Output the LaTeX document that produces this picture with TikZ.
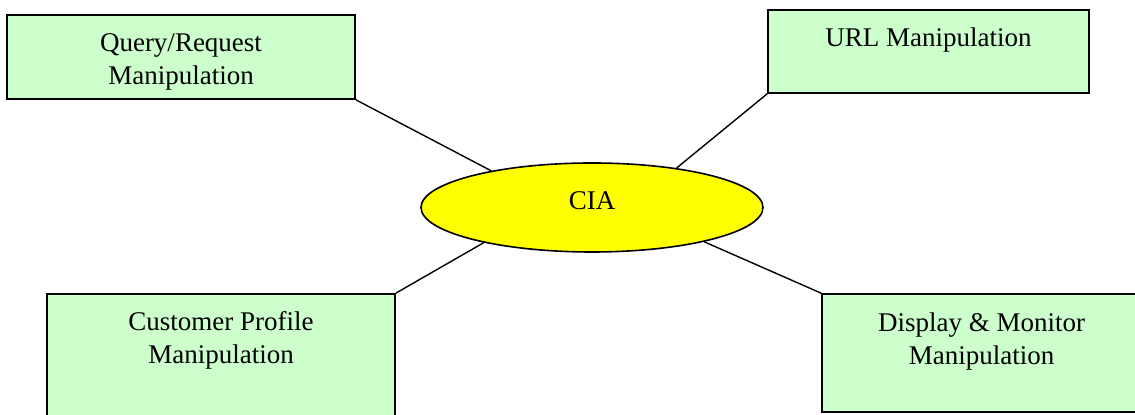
\documentclass[tikz,border=0pt]{standalone}
\usepackage{fontspec}
\setmainfont{Liberation Serif}
\usepackage{xcolor}
\usetikzlibrary{shapes.geometric, positioning}
\definecolor{boxGreen}{rgb}{0.8, 1.0, 0.8}
\definecolor{ciaYellow}{rgb}{1.0, 1.0, 0.0}

\begin{document}
\begin{tikzpicture}[x=0.5pt, y=-0.5pt,
		box/.style={draw, thick, fill=boxGreen, inner sep=0pt},
		boxtext/.style={align=center, inner sep=0pt, font=\fontsize{13.5}{16.5}\selectfont},
		link/.style={line width=0.7pt}]
			\clip (0,0) rectangle (1135,415);

			% Central ellipse
			\node[ellipse, draw, thick, fill=ciaYellow, inner sep=0pt, minimum width=171pt, minimum height=44.5pt] (cia) at (592,207.5) {};
			\node[boxtext] (ciatxt) at ([yshift=3.5pt]cia.center) {CIA};

			% Manipulation boxes
			\node[box, minimum width=174pt, minimum height=42pt] (qry) at (181,57) {};
			\node[box, minimum width=160.5pt, minimum height=41.5pt] (url) at (928.5,51.5) {};
			\node[box, minimum width=174pt, minimum height=68pt] (cust) at (221,362) {};
			\node[box, minimum width=159.5pt, minimum height=59pt] (disp) at (981.5,353) {};

			% Box labels
			\node[boxtext, below=9.5pt of qry.north] (qrytxt) {Query/Request\\Manipulation};
			\node[boxtext, below=9pt of url.north] (urltxt) {URL Manipulation};
			\node[boxtext, below=9pt of cust.north] (custtxt) {Customer Profile\\Manipulation};
			\node[boxtext, below=9.5pt of disp.north] (disptxt) {Display \& Monitor\\Manipulation};

			% Links to CIA
			\draw[link] (qry.south east) -- (cia.160);
			\draw[link] (url.south west) -- (cia.25);
			\draw[link] (cust.north east) -- (cia.198);
			\draw[link] (cia.-17) -- (disp.north west);
		\end{tikzpicture}
\end{document}
